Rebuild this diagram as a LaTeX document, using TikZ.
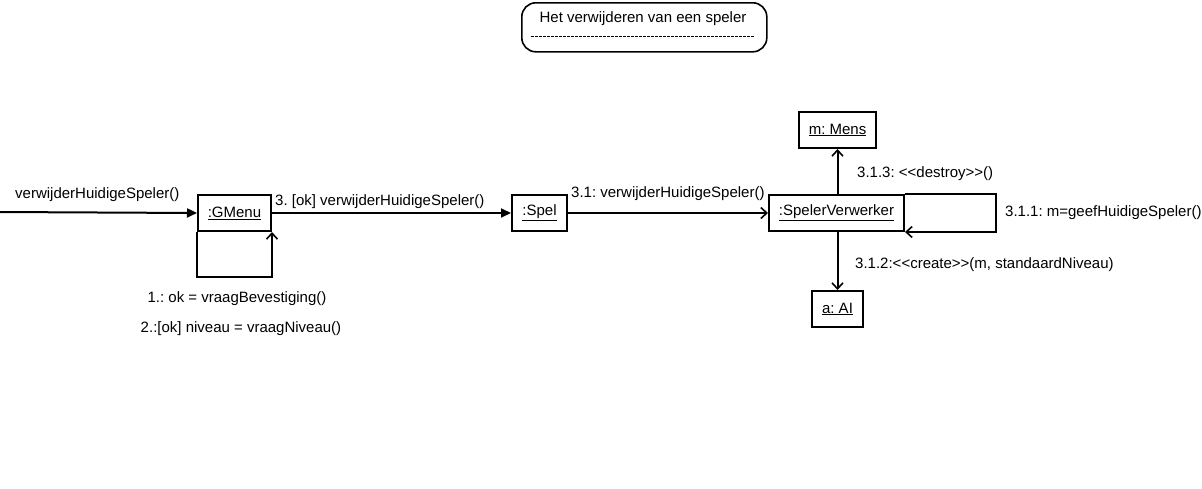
\documentclass[tikz,border=0pt]{standalone}
\usepackage{fontspec}
\setmainfont{Liberation Sans}[Ligatures=TeXOff]
\usetikzlibrary{arrows.meta}
\frenchspacing
\begin{document}
\begin{tikzpicture}[x=1pt,y=-1pt,
  every node/.style={font=\fontsize{15}{17}\selectfont, inner sep=0pt},
  obj/.style={draw, line width=2pt, minimum height=36pt, inner xsep=1pt, anchor=north west},
  conn/.style={line width=2pt},
  filled/.style={conn, -{Triangle[length=10pt,width=9pt]}},
  open/.style={conn, -{Straight Barb[length=6pt,width=11pt,line width=1.6pt]}},
  lbl/.style={anchor=base west}
]
\useasboundingbox (0,0) rectangle (1202,488);
% title
\node[draw, line width=1.6pt, rounded corners=14pt, minimum width=245pt, minimum height=49pt, anchor=north west] (title) at (521,2) {};
\node (ttext) at (643,19) {Het verwijderen van een speler};
\coordinate (dl) at (531,36);
\coordinate (dr) at (755,36);
\draw[dash pattern=on 3pt off 1pt, line width=0.8pt] (dl) -- (dr);

% objects
\node[obj, minimum width=73pt] (gmenu) at (197,194) {\underline{:GMenu}};
\node[obj, minimum width=55pt] (spel) at (511,194) {\underline{:Spel}};
\node[obj, minimum width=135pt] (sv) at (768,194) {\underline{:SpelerVerwerker}};
\node[obj, minimum width=77pt] (mens) at (798,111) {\underline{m: Mens}};
\node[obj, minimum width=51pt] (ai) at (811,290) {\underline{a: AI}};

% incoming
\coordinate (start) at (0,212);
\draw[filled] (start) -- (gmenu.west);
\node[lbl] at (15,198) {verwijderHuidigeSpeler()};

% GMenu self loop
\draw[open] (gmenu.south west) -- ++(0,45) -| (gmenu.south east);

\node (l1) at (237,299) {1.: ok = vraagBevestiging()};
\node (l2) at (241,329) {2.:[ok] niveau = vraagNiveau()};

% 3
\draw[filled] (gmenu.east) -- (spel.west);
\node[lbl] at (275,205) {3. [ok] verwijderHuidigeSpeler()};

% 3.1
\draw[open] (spel.east) -- (sv.west);
\node[lbl] at (571,197) {3.1: verwijderHuidigeSpeler()};

% 3.1.1 self loop
\draw[open] (sv.north east) -- ++(91,0) |- (sv.south east);
\node[lbl] at (1005,216) {3.1.1: m=geefHuidigeSpeler()};

% 3.1.3
\draw[open] (sv.north -| mens.south) -- (mens.south);
\node[lbl] at (857,177) {3.1.3: <<destroy>>()};

% 3.1.2
\draw[open] (sv.south -| ai.north) -- (ai.north);
\node[lbl] at (855,268) {3.1.2:<<create>>(m, standaardNiveau)};
\end{tikzpicture}
\end{document}
